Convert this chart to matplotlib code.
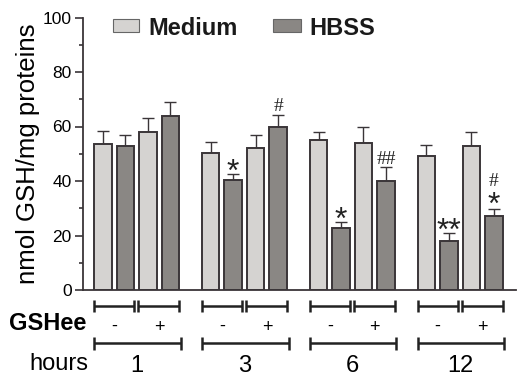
import matplotlib
matplotlib.use("Agg")
import matplotlib.pyplot as plt
from matplotlib.patches import Rectangle
import numpy as np

plt.rcParams['font.family'] = ['Liberation Sans', 'DejaVu Sans']

hours = ["1", "3", "6", "12"]
gshee = ["-", "+"]
# order per group: Medium(-), HBSS(-), Medium(+), HBSS(+)
medium_minus = [53.6, 50.4, 55.0, 49.2]
hbss_minus = [52.8, 40.3, 22.9, 18.0]
medium_plus = [58.0, 52.0, 53.8, 53.0]
hbss_plus = [64.0, 60.0, 40.0, 27.0]
medium_minus_err = [4.9, 3.8, 3.1, 4.0]
hbss_minus_err = [4.0, 2.3, 2.2, 3.0]
medium_plus_err = [5.0, 4.9, 6.1, 4.9]
hbss_plus_err = [4.9, 4.3, 5.0, 2.8]
# significance marks (group index, bar index, text, y centre)
marks = [(1, 1, "*", 45.5, "star"), (1, 3, "#", 67.3, "hash"),
         (2, 1, "*", 28.0, "star"), (2, 3, "##", 47.8, "hash"),
         (3, 1, "**", 23.8, "star"), (3, 3, "*", 33.4, "star"),
         (3, 3, "#", 39.8, "hash")]

LIGHT = "#d5d3d1"
DARK = "#8a8784"
EDGE = "#3a3538"

W, H = 517, 383
fig = plt.figure(figsize=(W / 100, H / 100), dpi=100)
ax = fig.add_axes([82.7 / W, 1 - 290 / H, (516 - 82.7) / W, (290 - 17.5) / H])

def py(px):
    """pixel row (from top) -> data y"""
    return (290 - px) / 2.725

gap = 4.8
bw = 0.78
series = [(medium_minus, medium_minus_err, LIGHT),
          (hbss_minus, hbss_minus_err, DARK),
          (medium_plus, medium_plus_err, LIGHT),
          (hbss_plus, hbss_plus_err, DARK)]
base = np.arange(len(hours)) * gap
for i, (vals, errs, col) in enumerate(series):
    x = base + i
    ax.bar(x, vals, width=bw, color=col, edgecolor=EDGE, linewidth=1.4, zorder=2)
    ax.errorbar(x, vals, yerr=[np.zeros(len(vals)), errs], fmt='none',
                ecolor=EDGE, elinewidth=1.0, capsize=4, capthick=1.0, zorder=1)

for g, b, txt, y, kind in marks:
    xx = base[g] + b
    if kind == "star":
        # asterisk glyph sits high in its em box: shift baseline down
        ax.text(xx, y - 5.6, txt, ha='center', va='baseline', fontsize=23, color='#222222')
    else:
        ax.text(xx, y, txt, ha='center', va='center', fontsize=14,
                family=['Liberation Serif', 'DejaVu Serif'], color='#222222')

ax.set_xlim(-0.9, base[-1] + 3 + 0.99)
ax.set_ylim(0, 100)
ax.set_yticks([0, 20, 40, 60, 80, 100])
ax.set_yticks([10, 30, 50, 70, 90], minor=True)
ax.tick_params(axis='y', which='major', length=6, width=1.2, labelsize=12.5, pad=2, color=EDGE)
ax.tick_params(axis='y', which='minor', length=3, width=1.2, color=EDGE)
ax.set_xticks([])
for s in ['top', 'right']:
    ax.spines[s].set_visible(False)
for s in ['left', 'bottom']:
    ax.spines[s].set_linewidth(1.3)
    ax.spines[s].set_color(EDGE)
ax.set_ylabel("nmol GSH/mg proteins", fontsize=18.5, labelpad=2)

# brackets below axis
def bracket(x0, x1, y, h=2.3):
    ax.plot([x0, x1], [y, y], color='#222222', lw=1.8, clip_on=False, solid_capstyle='butt')
    for xx in (x0, x1):
        ax.plot([xx, xx], [y - h, y + h], color='#222222', lw=1.8, clip_on=False,
                solid_capstyle='butt')

y1, y2 = py(306), py(343.3)
for g in range(len(hours)):
    b0 = base[g]
    bracket(b0 - bw / 2, b0 + 1 + bw / 2, y1)
    bracket(b0 + 2 - bw / 2 - 0.04, b0 + 3 + bw / 2, y1)
    bracket(b0 - bw / 2, b0 + 3 + bw / 2 + 0.08, y2)
    ax.text(b0 + 0.5, py(331), gshee[0], ha='center', va='baseline', fontsize=13, clip_on=False)
    ax.text(b0 + 2.5, py(332), gshee[1], ha='center', va='baseline', fontsize=13, clip_on=False)
    ax.text(b0 + 1.5, py(371.5), hours[g], ha='center', va='baseline', fontsize=17, clip_on=False)

fig.text(9 / W, 1 - 330 / H, "GSHee", ha='left', va='baseline', fontsize=17, fontweight='bold')
fig.text(29 / W, 1 - 370 / H, "hours", ha='left', va='baseline', fontsize=17)

# legend
for (x0, x1, col, label) in [(112.7, 139, LIGHT, "Medium"), (273.3, 300.7, DARK, "HBSS")]:
    fig.patches.append(Rectangle((x0 / W, 1 - 31.7 / H), (x1 - x0) / W, 12.7 / H,
                                 transform=fig.transFigure, facecolor=col,
                                 edgecolor='#666666', linewidth=0.8))
    fig.text((x1 + 9) / W, 1 - 34.7 / H, label, ha='left', va='baseline',
             fontsize=17, fontweight='bold', color='#1a1a1a')

fig.savefig("out.png", dpi=100, facecolor='white')
